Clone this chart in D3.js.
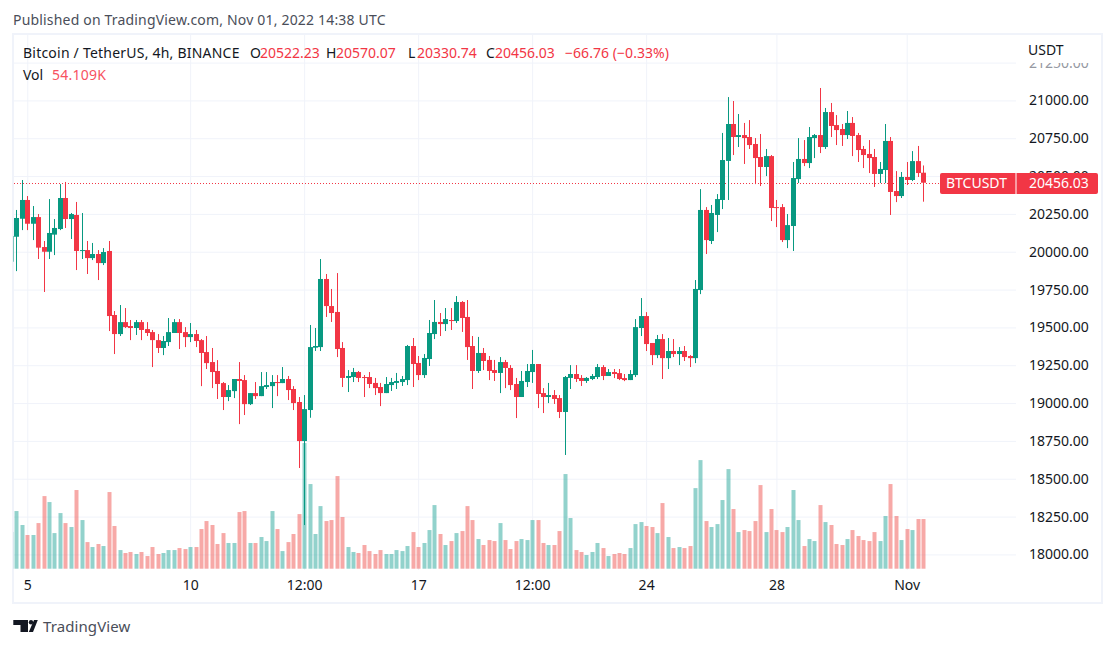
<!DOCTYPE html>
<html>
<head>
<meta charset="utf-8">
<style>
  html, body { margin: 0; padding: 0; background: #fff; overflow: hidden; }
  text { font-family: "Noto Sans", sans-serif; }
  .domain { display: none; }
</style>
</head>
<body>
<svg id="chart" width="1116" height="648"></svg>
<script src="https://cdn.jsdelivr.net/npm/d3@7/dist/d3.min.js"></script>
<script>
// 4h candles, Oct 4 2022 20:00 -> Nov 1 2022 12:00
const opens = [
  19934,20099,20218,20342,20185,20229,20031,20000,20113,20150,
  20355,20216,20243,20005,20011,19958,19985,19925,20005,19582,
  19456,19535,19509,19496,19535,19489,19469,19416,19364,19403,
  19463,19535,19469,19436,19456,19416,19337,19271,19212,19132,
  19040,19079,19159,19152,18993,19066,19046,19106,19112,19139,
  19132,19159,19093,19007,18749,18954,19366,19370,19820,19641,
  19602,19364,19166,19172,19205,19172,19172,19133,19106,19066,
  19119,19133,19139,19152,19377,19265,19185,19291,19456,19536,
  19522,19549,19542,19668,19569,19377,19212,19331,19285,19218,
  19199,19271,19232,19126,19040,19139,19205,19258,19066,19040,
  19053,19033,18941,19166,19192,19166,19146,19159,19172,19238,
  19179,19205,19198,19165,19152,19185,19496,19575,19397,19317,
  19423,19297,19344,19324,19344,19311,19297,19747,20276,20071,
  20243,20342,20600,20844,20758,20771,20758,20712,20626,20560,
  20632,20295,20295,20077,20170,20480,20613,20586,20751,20771,
  20692,20923,20837,20811,20771,20851,20771,20679,20646,20626,
  20514,20540,20732,20401,20368,20494,20474,20599,20522.23
];
const highs = [
  20104,20276,20474,20368,20302,20249,20071,20348,20216,20447,
  20461,20256,20329,20256,20071,20058,20011,20024,20071,19608,
  19648,19628,19549,19549,19549,19535,19483,19456,19443,19562,
  19555,19555,19502,19529,19483,19423,19443,19364,19284,19139,
  19119,19159,19271,19185,19066,19139,19205,19205,19185,19185,
  19238,19179,19112,19040,19053,19516,19496,19952,19853,19754,
  19859,19403,19218,19232,19212,19185,19205,19166,19133,19172,
  19166,19199,19179,19384,19430,19311,19324,19549,19681,19595,
  19628,19628,19707,19674,19681,19443,19437,19364,19311,19285,
  19304,19285,19251,19166,19212,19258,19351,19258,19099,19133,
  19086,19053,19179,19251,19251,19185,19172,19192,19258,19251,
  19225,19225,19225,19192,19218,19555,19694,19601,19397,19450,
  19456,19430,19423,19370,19377,19317,19813,20414,20295,20309,
  20381,20785,21022,20996,20910,20851,20870,20751,20778,20679,
  20639,20342,20315,20249,20593,20751,20738,20824,20778,21082,
  20950,20983,20903,20844,20930,20890,20785,20699,20738,20679,
  20593,20844,20758,20533,20527,20593,20665,20699,20570.07
];
const lows = [
  19934,19872,20143,20143,20077,19952,19734,19952,19978,20143,
  20157,20084,19879,19952,19853,19945,19813,19912,19476,19324,
  19443,19496,19416,19450,19416,19443,19238,19331,19317,19377,
  19463,19357,19370,19403,19370,19112,19225,19099,19027,18954,
  19013,19033,18861,18921,18987,19027,19046,19093,18967,19046,
  19132,19020,18954,18571,18194,18903,19344,19344,19569,19536,
  19304,19106,19073,19139,19139,19040,19099,19053,18980,19066,
  19080,19093,19113,19119,19106,19152,19166,19245,19423,19443,
  19476,19483,19529,19470,19285,19093,19199,19218,19152,19146,
  19066,19099,19086,18901,19040,19106,19133,18967,18934,19000,
  18994,18901,18657,19093,19139,19113,19133,19152,19159,19152,
  19179,19165,19152,19145,19152,19172,19443,19344,19251,19297,
  19159,19225,19304,19251,19278,19238,19264,19720,19985,20051,
  20130,20282,20342,20639,20692,20580,20679,20447,20434,20500,
  20203,20163,20064,20024,20005,20454,20566,20553,20619,20652,
  20679,20758,20705,20699,20745,20632,20593,20553,20520,20428,
  20454,20454,20243,20328,20355,20441,20467,20494,20330.74
];
const closes = [
  20104,20223,20342,20185,20229,20027,20000,20124,20157,20355,
  20216,20249,20005,20011,19958,19985,19925,19998,19575,19456,
  19535,19502,19496,19535,19483,19463,19416,19364,19410,19469,
  19535,19463,19436,19456,19410,19331,19264,19205,19126,19040,
  19086,19159,19146,18993,19066,19046,19112,19119,19139,19132,
  19159,19086,19000,18749,18960,19370,19377,19820,19641,19595,
  19357,19166,19179,19205,19166,19166,19126,19099,19066,19126,
  19139,19146,19159,19377,19258,19185,19298,19463,19536,19522,
  19555,19542,19668,19562,19370,19212,19331,19278,19212,19199,
  19271,19232,19119,19040,19146,19212,19258,19060,19040,19053,
  19027,18941,19172,19192,19159,19146,19166,19179,19238,19179,
  19205,19192,19159,19152,19192,19502,19575,19390,19317,19423,
  19297,19344,19324,19344,19304,19297,19754,20276,20077,20256,
  20348,20606,20844,20758,20771,20751,20705,20619,20560,20632,
  20289,20289,20077,20176,20487,20613,20586,20758,20771,20692,
  20923,20831,20804,20771,20851,20765,20672,20639,20619,20514,
  20547,20732,20395,20368,20494,20474,20599,20520,20456.03
];
// volume in thousands
const volumes = [
  40,62.8,47.6,36.7,36.7,49.7,79.1,72.6,38.8,60.6,
  49.7,45.4,85.7,53,29,23.6,26.9,24.7,83.5,46.5,
  20.3,17.1,18.2,16,18.2,13.8,23.6,16,17.1,20.3,
  20.3,22.5,21.4,23.6,23.6,43.2,51.9,47.6,26.9,38.8,
  28,28,61.7,62.8,28,28,34.5,30.1,62.8,43.2,
  19.2,29,37.8,59.5,136.9,92.2,37.8,68.2,51.9,53,
  100.9,56.3,23.6,18.2,17.1,25.8,19.2,16,20.3,16,
  16,20.3,19.2,24.7,39.9,23.6,28,42.1,69.3,37.8,
  25.8,30.1,38.8,41,68.2,53,32.3,25.8,31.2,30.1,
  49.7,31.2,21.4,30.1,32.3,31.2,53,53,28,25.8,
  25.8,41,103.1,55.2,20.3,18.2,14.9,18.2,28,22.5,
  13.8,16,17.1,16,22.5,48.6,50.8,46.5,45.4,38.8,
  71.5,34.5,22.5,23.6,22.5,24.7,87.8,118.3,51.9,45.4,
  48.6,74.8,108.5,65,39.9,42.1,41,51.9,91.1,39.9,
  65,42.1,39.9,45.4,85.7,53,24.7,32.3,30.1,69.3,
  50.8,47.6,26.9,25.8,32.3,42.1,35.6,31.2,30.1,39.9,
  30.1,57.4,92.2,57.4,31.2,43.2,42.1,54.1,54.109
];

const priceTicks = [18000,18250,18500,18750,19000,19250,19500,19750,20000,20250,20500,20750,21000,21250];
const timeTickBars = [3,33,54,75,96,117,141,165];
const timeTickLabels = ["5","10","12:00","17","12:00","24","28","Nov"];
const lastPrice = 20456.03;

const UP = "#089981", DOWN = "#f23645", GRID = "#f0f3fa", INK = "#131722";
const bars = d3.range(opens.length);
const isUp = i => closes[i] >= opens[i];

const svg = d3.select("#chart");

// scales
const x = d3.scaleLinear().domain([3,165]).range([27.3,906.7]);
const y = d3.scaleLinear().domain([18000,21000]).range([554.4,100.4]);
const yVol = d3.scaleLinear().domain([0,100]).range([568.7,476.9]);

const px = i => Math.round(x(i));

const defs = svg.append("defs");
defs.append("clipPath").attr("id","plotClip").append("rect")
  .attr("x",13.5).attr("y",35).attr("width",1002.5).attr("height",535);
defs.append("clipPath").attr("id","axisClip").append("rect")
  .attr("x",1016).attr("y",63).attr("width",86).attr("height",507);

// frame
svg.append("rect").attr("x",13).attr("y",34).attr("width",1089).attr("height",569)
  .attr("fill","none").attr("stroke",GRID).attr("stroke-width",2);

// grid
svg.append("g").attr("clip-path","url(#plotClip)")
  .append("g").attr("transform","translate(14,0)")
  .call(d3.axisRight(y).tickValues(priceTicks).tickSize(1002).tickFormat(""))
  .call(g => g.selectAll(".tick line").attr("stroke",GRID));

svg.append("g").attr("transform","translate(0,35)")
  .call(d3.axisBottom(x).tickValues(timeTickBars).tickSize(535).tickFormat(""))
  .call(g => g.selectAll(".tick line").attr("stroke",GRID));

const plot = svg.append("g").attr("clip-path","url(#plotClip)");

// volume
plot.append("g").selectAll("rect").data(bars).join("rect")
  .attr("x", i => px(i) - 1.5)
  .attr("width", 4)
  .attr("y", i => yVol(volumes[i]))
  .attr("height", i => yVol(0) - yVol(volumes[i]))
  .attr("fill", i => isUp(i) ? "#26a69a" : "#ef5350")
  .attr("fill-opacity", 0.5);

// last price line
plot.append("line")
  .attr("x1",14).attr("x2",940)
  .attr("y1",Math.round(y(lastPrice)) + 0.5).attr("y2",Math.round(y(lastPrice)) + 0.5)
  .attr("stroke",DOWN).attr("stroke-dasharray","1 2");

// wicks
plot.append("g").selectAll("rect").data(bars).join("rect")
  .attr("x", i => px(i))
  .attr("width", 1)
  .attr("y", i => y(highs[i]))
  .attr("height", i => y(lows[i]) - y(highs[i]))
  .attr("fill", i => isUp(i) ? UP : DOWN);

// bodies
plot.append("g").selectAll("rect").data(bars).join("rect")
  .attr("x", i => px(i) - 2)
  .attr("width", 5)
  .attr("y", i => y(Math.max(opens[i],closes[i])))
  .attr("height", i => Math.max(1, Math.abs(y(opens[i]) - y(closes[i]))))
  .attr("fill", i => isUp(i) ? UP : DOWN);

// axes
svg.append("g").attr("clip-path","url(#axisClip)")
  .append("g").attr("transform","translate(1029,0)")
  .call(d3.axisRight(y).tickValues(priceTicks).tickSize(0).tickPadding(0).tickFormat(d => d.toFixed(2)))
  .call(g => g.selectAll(".tick text")
    .attr("fill", d => d > 21000 ? "#9598a1" : INK)
    .style("font-size","14px").style("font-family",'"Noto Sans", sans-serif'));

svg.append("g").attr("transform","translate(0,580)")
  .call(d3.axisBottom(x).tickValues(timeTickBars).tickSize(0).tickPadding(0)
    .tickFormat((d,i) => timeTickLabels[i]))
  .call(g => g.selectAll(".tick text")
    .attr("fill",INK).style("font-size","14px").style("font-family",'"Noto Sans", sans-serif'));

function label(txt, tx, ty, color, size, spacing) {
  return svg.append("text").attr("x",tx).attr("y",ty).attr("fill",color)
    .style("font-size",(size || 14) + "px")
    .style("letter-spacing",(spacing || 0) + "px").text(txt);
}

// last price tag
const tagY = Math.round(y(lastPrice));
svg.append("rect").attr("x",940).attr("y",tagY - 10).attr("width",158).attr("height",21).attr("rx",2).attr("fill",DOWN);
svg.append("rect").attr("x",1015.5).attr("y",tagY - 10).attr("width",1).attr("height",21).attr("fill","#fff");
label("BTCUSDT",946,tagY + 5,"#fff",14,0);
label("20456.03",1029,tagY + 5,"#fff");

// header and legend
label("Published on TradingView.com, Nov 01, 2022 14:38 UTC",13,25,"#4a4e59",14,0.18);
label("USDT",1028,55,INK);
label("Bitcoin / TetherUS, 4h, BINANCE",23,58,INK,14,0.22);
label("O",250,58,INK);
label("20522.23",260,58,DOWN);
label("H",326,58,INK);
label("20570.07",336,58,DOWN);
label("L",408,58,INK);
label("20330.74",417,58,DOWN);
label("C",486,58,INK);
label("20456.03",495,58,DOWN);
label("\u221266.76 (\u22120.33%)",565,58,DOWN,14,0.05);
label("Vol",23,80,INK);
label("54.109K",52,80,"#f7525f",14,0.25);

// logo
svg.append("path")
  .attr("d","M13.3 620H28V632H20.5V625H13.3ZM34 620H37.8L33 632H28.8Z")
  .attr("fill",INK);
svg.append("circle").attr("cx",31).attr("cy",622.3).attr("r",2.2).attr("fill",INK);
label("TradingView",43,632,"#4a4e59",15,0.1);
</script>
</body>
</html>
